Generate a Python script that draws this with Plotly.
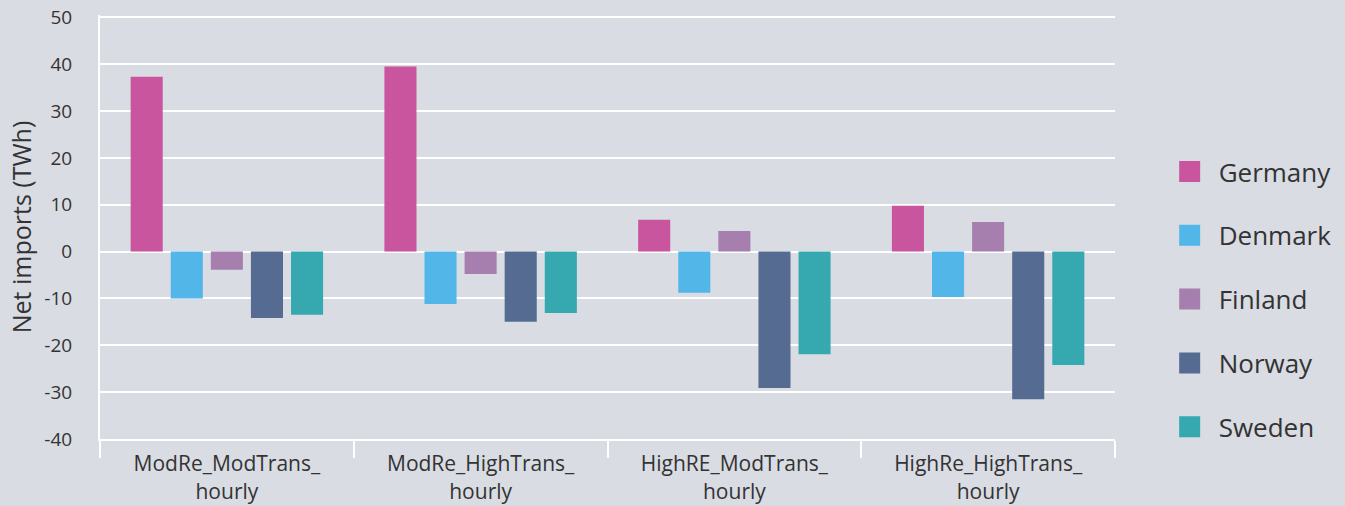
import plotly.graph_objects as go

categories = ["ModRe_ModTrans_<br>hourly", "ModRe_HighTrans_<br>hourly",
              "HighRE_ModTrans_<br>hourly", "HighRe_HighTrans_<br>hourly"]
countries = ["Germany", "Denmark", "Finland", "Norway", "Sweden"]
germany = [37.3, 39.5, 6.8, 9.8]
denmark = [-10.0, -11.2, -8.8, -9.7]
finland = [-3.9, -4.8, 4.4, 6.3]
norway = [-14.2, -15.0, -29.1, -31.5]
sweden = [-13.5, -13.1, -21.9, -24.2]
series = [germany, denmark, finland, norway, sweden]
colors = ["#C9559E", "#52B7E8", "#A67FAE", "#566B92", "#36A9B0"]
y_tickvals = [-40, -30, -20, -10, 0, 10, 20, 30, 40, 50]
y_ticktext = ["-40", "-30", "-20", "-10", "0", "10", "20", "30", "40", "50"]

BG = "#D9DCE3"
TXT = "#333333"
FONT = "Open Sans"

fig = go.Figure()
for name, vals, col in zip(countries, series, colors):
    fig.add_trace(go.Bar(x=categories, y=vals, name=name, marker_color=col,
                         marker_line_width=0, showlegend=False))
# legend entries
for name, col in zip(countries, colors):
    fig.add_trace(go.Scatter(x=[None], y=[None], mode="markers", name=name,
                             legendgroup=name,
                             marker=dict(symbol="square", size=16, color=col,
                                         line=dict(color=col, width=5))))

fig.update_layout(
    width=1345, height=506,
    paper_bgcolor=BG, plot_bgcolor=BG,
    margin=dict(l=100, r=230, t=15, b=67, autoexpand=False),
    barmode="group", bargap=0.21, bargroupgap=0.2,
    font=dict(family=FONT, color=TXT),
    legend=dict(x=1.045, xanchor="left", y=0.33, yanchor="middle",
                traceorder="grouped", tracegroupgap=27, itemwidth=48,
                font=dict(size=26, color=TXT, family=FONT),
                bgcolor="rgba(0,0,0,0)"),
    xaxis=dict(type="category", showgrid=False, showline=True, linecolor="white",
               linewidth=2, ticks="outside", tickson="boundaries", ticklen=17,
               tickcolor="white", tickwidth=2, automargin=False,
               ticklabelstandoff=5,
               tickfont=dict(size=21, color=TXT, family=FONT)),
    yaxis=dict(range=[-40, 50.5], tickmode="array", tickvals=y_tickvals,
               ticktext=y_ticktext, showgrid=True, automargin=False,
               gridcolor="white", gridwidth=2, zeroline=False,
               showline=True, linecolor="white", linewidth=2,
               ticklabelstandoff=22,
               tickfont=dict(size=19, color=TXT, family=FONT),
               title=dict(text="Net imports (TWh)", standoff=6,
                          font=dict(size=25, color=TXT, family=FONT))),
)

fig.write_html("out.html", config={"displayModeBar": False},
               post_script="document.body.style.margin='0';document.body.style.overflow='hidden';")
